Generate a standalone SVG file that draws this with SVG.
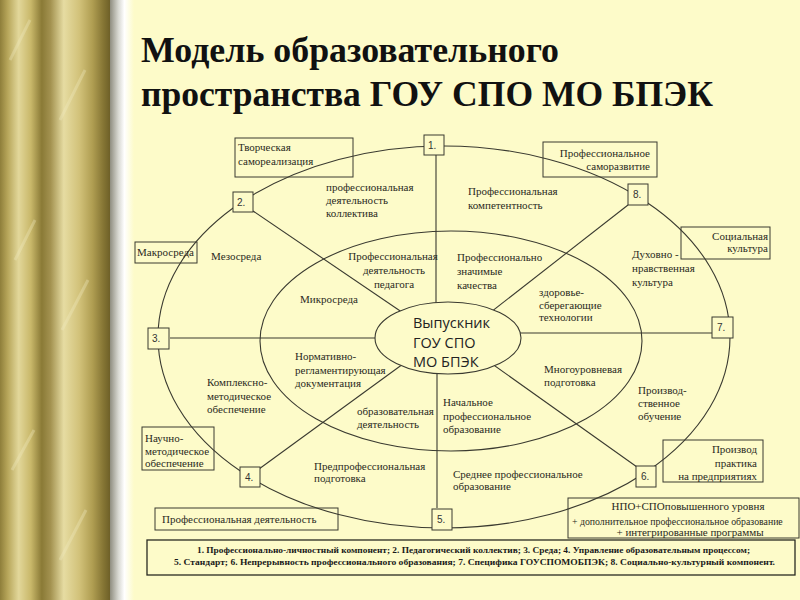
<svg xmlns="http://www.w3.org/2000/svg" width="800" height="600" viewBox="0 0 800 600">
<defs>
<linearGradient id="gold" x1="0" y1="0" x2="1" y2="0">
<stop offset="0" stop-color="#8E7E3A"/>
<stop offset="0.07" stop-color="#B7A65A"/>
<stop offset="0.17" stop-color="#E2D79A"/>
<stop offset="0.28" stop-color="#C9B86A"/>
<stop offset="0.38" stop-color="#8A7A36"/>
<stop offset="0.46" stop-color="#A39250"/>
<stop offset="0.58" stop-color="#E6DCA2"/>
<stop offset="0.72" stop-color="#D2C27A"/>
<stop offset="0.84" stop-color="#B09E52"/>
<stop offset="0.94" stop-color="#857534"/>
<stop offset="1" stop-color="#6E6028"/>
</linearGradient>
<linearGradient id="shade" x1="0" y1="0" x2="1" y2="0">
<stop offset="0" stop-color="#8F8D80"/>
<stop offset="0.35" stop-color="#D8D8D2"/>
<stop offset="0.6" stop-color="#FFFFFF"/>
<stop offset="1" stop-color="#FDFBC9"/>
</linearGradient>
<style>
.t{font-family:"Liberation Serif","Times New Roman",serif;font-size:11px;fill:#2a2a22}
.t10{font-family:"Liberation Serif","Times New Roman",serif;font-size:9.8px;fill:#2a2a22}
.r{text-anchor:end}
.c{text-anchor:middle}
.n{font-family:"Liberation Sans",Arial,sans-serif;font-size:10px;fill:#333}
.bx{fill:none;stroke:#3a3a30;stroke-width:1}
.nb{fill:#FDFBC9;stroke:#3a3a30;stroke-width:1}
.ln{fill:none;stroke:#3a3a30;stroke-width:1.1}
.title{font-family:"Liberation Serif","Times New Roman",serif;font-weight:bold;font-size:36px;fill:#111}
.lg{font-family:"Liberation Serif","Times New Roman",serif;font-weight:bold;font-size:9px;fill:#1a1a1a}
.ctr{font-family:"Open Sans","Liberation Sans",sans-serif;font-size:14.5px;fill:#222}
</style>
</defs>

<rect x="0" y="0" width="800" height="600" fill="#FDFBC9"/>
<rect x="0" y="0" width="110" height="600" fill="url(#gold)"/>
<g stroke="#F1EAC0" stroke-opacity="0.35" stroke-width="3">
<line x1="10" y1="60" x2="30" y2="20"/>
<line x1="60" y1="120" x2="85" y2="70"/>
<line x1="15" y1="260" x2="35" y2="220"/>
<line x1="62" y1="330" x2="88" y2="280"/>
<line x1="12" y1="470" x2="34" y2="430"/>
<line x1="60" y1="560" x2="86" y2="510"/>
</g>
<rect x="110" y="0" width="24" height="600" fill="url(#shade)"/>

<g id="title">
<text class="title" x="141" y="62" textLength="418" lengthAdjust="spacingAndGlyphs">Модель образовательного</text>
<text class="title" x="141" y="106" textLength="572" lengthAdjust="spacingAndGlyphs">пространства ГОУ СПО МО БПЭК</text>
</g>

<g id="connectors">
<ellipse class="ln" cx="444" cy="337" rx="286" ry="191"/>
<ellipse class="ln" cx="451" cy="341" rx="191" ry="110"/>
<line class="ln" x1="436" y1="155" x2="436" y2="338"/>
<line class="ln" x1="253" y1="211" x2="440" y2="338"/>
<line class="ln" x1="170" y1="338" x2="440" y2="338"/>
<line class="ln" x1="259" y1="469" x2="440" y2="337"/>
<line class="ln" x1="437" y1="338" x2="437" y2="508"/>
<line class="ln" x1="637" y1="467" x2="450" y2="334"/>
<line class="ln" x1="450" y1="333" x2="712" y2="333"/>
<line class="ln" x1="628" y1="205" x2="450" y2="344"/>
</g>

<g id="center">
<ellipse cx="448" cy="338" rx="73" ry="36" fill="#FDFBC9" stroke="#3a3a30" stroke-width="1.1"/>
<text class="ctr" x="413" y="328">Выпускник</text>
<text class="ctr" x="413" y="348">ГОУ СПО</text>
<text class="ctr" x="413" y="367">МО БПЭК</text>
</g>

<g id="n1"><rect class="nb" x="424" y="135" width="20" height="20"/><text class="n" x="428" y="149">1.</text></g>
<g id="n2"><rect class="nb" x="233" y="192" width="20" height="20"/><text class="n" x="237" y="206">2.</text></g>
<g id="n3"><rect class="nb" x="148" y="328" width="21" height="21"/><text class="n" x="152" y="342">3.</text></g>
<g id="n4"><rect class="nb" x="240" y="467" width="20" height="20"/><text class="n" x="245" y="481">4.</text></g>
<g id="n5"><rect class="nb" x="432" y="509" width="20" height="21"/><text class="n" x="437" y="523">5.</text></g>
<g id="n6"><rect class="nb" x="636" y="466" width="20" height="21"/><text class="n" x="641" y="480">6.</text></g>
<g id="n7"><rect class="nb" x="712" y="317" width="21" height="21"/><text class="n" x="717" y="331">7.</text></g>
<g id="n8"><rect class="nb" x="628" y="184" width="20" height="21"/><text class="n" x="633" y="198">8.</text></g>

<g id="b-tvorch"><rect class="bx" x="235" y="138" width="118" height="39"/>
<text class="t" x="238" y="151">Творческая</text><text class="t" x="238" y="165">самореализация</text></g>
<g id="b-samorazv"><rect class="bx" x="543" y="142" width="114" height="35"/>
<text class="t r" x="650" y="157">Профессиональное</text><text class="t r" x="650" y="170">саморазвитие</text></g>
<g id="b-soc"><rect class="bx" x="681" y="227" width="89" height="32"/>
<text class="t r" x="768" y="240">Социальная</text><text class="t r" x="768" y="252">культура</text></g>
<g id="b-makro"><rect class="bx" x="135" y="242" width="62" height="21"/>
<text class="t" x="137" y="256">Макросреда</text></g>
<g id="b-nauch"><rect class="bx" x="142" y="427" width="72" height="43"/>
<text class="t" x="145" y="442">Научно-</text><text class="t" x="145" y="455">методическое</text><text class="t" x="145" y="467">обеспечение</text></g>
<g id="b-profdeyat"><rect class="bx" x="155" y="508" width="183" height="22"/>
<text class="t" x="162" y="523">Профессиональная деятельность</text></g>
<g id="b-praktika"><rect class="bx" x="663" y="440" width="100" height="42"/>
<text class="t r" x="757" y="453">Производ</text><text class="t r" x="757" y="467">практика</text><text class="t r" x="757" y="480">на предприятиях</text></g>
<g id="b-npo"><rect class="bx" x="568" y="498" width="231" height="40"/>
<text class="t c" x="688" y="510">НПО+СПОповышенного уровня</text>
<text class="t10" x="572" y="525">+ дополнительное профессиональное образование</text>
<text class="t c" x="690" y="536">+ интегрированные программы</text></g>

<g id="labels">
<text class="t" x="326" y="191">профессиональная</text><text class="t" x="326" y="204">деятельность</text><text class="t" x="326" y="217">коллектива</text>
<text class="t" x="468" y="195">Профессиональная</text><text class="t" x="468" y="209">компетентность</text>
<text class="t" x="211" y="260">Мезосреда</text>
<text class="t c" x="393" y="260">Профессиональная</text><text class="t c" x="394" y="274">деятельность</text><text class="t c" x="394" y="288">педагога</text>
<text class="t" x="457" y="261">Профессионально</text><text class="t" x="457" y="275">значимые</text><text class="t" x="457" y="289">качества</text>
<text class="t" x="632" y="258">Духовно -</text><text class="t" x="632" y="272">нравственная</text><text class="t" x="632" y="286">культура</text>
<text class="t" x="300" y="303">Микросреда</text>
<text class="t" x="539" y="296">здоровье-</text><text class="t" x="539" y="309">сберегающие</text><text class="t" x="539" y="321">технологии</text>
<text class="t" x="295" y="360">Нормативно-</text><text class="t" x="295" y="374">регламентирующая</text><text class="t" x="295" y="387">документация</text>
<text class="t" x="207" y="386">Комплексно-</text><text class="t" x="207" y="400">методическое</text><text class="t" x="207" y="413">обеспечение</text>
<text class="t" x="357" y="415">образовательная</text><text class="t" x="357" y="428">деятельность</text>
<text class="t" x="443" y="406">Начальное</text><text class="t" x="443" y="420">профессиональное</text><text class="t" x="443" y="433">образование</text>
<text class="t" x="544" y="373">Многоуровневая</text><text class="t" x="544" y="386">подготовка</text>
<text class="t" x="638" y="394">Производ-</text><text class="t" x="638" y="407">ственное</text><text class="t" x="638" y="420">обучение</text>
<text class="t" x="314" y="470">Предпрофессиональная</text><text class="t" x="314" y="482">подготовка</text>
<text class="t" x="453" y="478">Среднее профессиональное</text><text class="t" x="453" y="490">образование</text>
</g>

<g id="legend">
<rect x="147" y="540" width="648" height="35" fill="none" stroke="#2a2a22" stroke-width="1.3"/>
<text class="lg" x="197" y="553" textLength="553" lengthAdjust="spacingAndGlyphs">1. Профессионально-личностный компонент; 2. Педагогический коллектив; 3. Среда; 4. Управление образовательным процессом;</text>
<text class="lg" x="174" y="565" textLength="601" lengthAdjust="spacingAndGlyphs">5. Стандарт; 6. Непрерывность профессионального образования; 7. Специфика ГОУСПОМОБПЭК; 8. Социально-культурный компонент.</text>
</g>
</svg>
